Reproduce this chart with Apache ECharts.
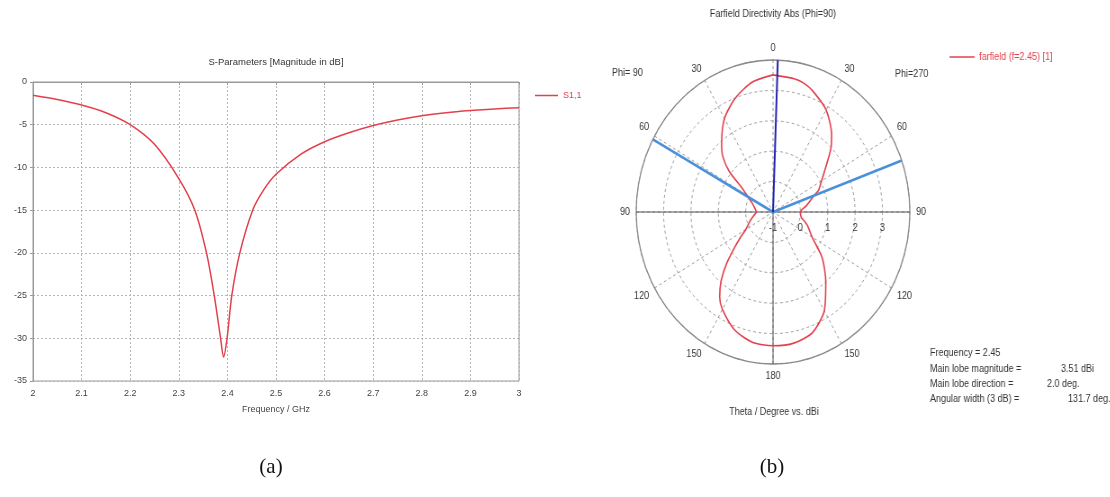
<!DOCTYPE html>
<html>
<head>
<meta charset="utf-8">
<script src="https://cdn.jsdelivr.net/npm/echarts@6/dist/echarts.min.js"></script>
<style>
  html, body { margin: 0; padding: 0; background: #fff; overflow: hidden; }
  #left { position: absolute; left: 0; top: 0; width: 1110px; height: 497px; }
  #right { position: absolute; left: 560px; top: 0; width: 620px; height: 497px;
           transform: scaleX(0.9); transform-origin: 213px 0; }
</style>
</head>
<body>
<div id="left"></div>
<div id="right"></div>
<script>
// ---------- (a) S-parameters ----------
const freqGHz = [2.0, 2.05, 2.1, 2.15, 2.2, 2.25, 2.3, 2.333, 2.357, 2.373, 2.386, 2.392, 2.3993, 2.409, 2.4256, 2.452, 2.475, 2.5, 2.55, 2.6, 2.65, 2.7, 2.75, 2.8, 2.85, 2.9, 2.95, 3.0];
const s11dB   = [-1.55, -2.05, -2.7, -3.6, -5.0, -7.3, -11.3, -15, -20, -25, -30, -32.2, -30, -25, -20, -15, -12.6, -10.8, -8.5, -7.0, -5.95, -5.1, -4.45, -3.95, -3.6, -3.35, -3.15, -3.02];
const xTickLabels = ['2', '2.1', '2.2', '2.3', '2.4', '2.5', '2.6', '2.7', '2.8', '2.9', '3'];
const yTickLabels = ['-35', '-30', '-25', '-20', '-15', '-10', '-5', '0'];
const s11Name = 'S1,1';

// ---------- (b) Farfield polar ----------
const rightTheta = [0, 10, 15, 20, 30, 40, 45, 50, 60, 67, 70, 80, 90, 100, 105, 110, 120, 130, 140, 150, 160, 170, 180];
const rightDb    = [3.51, 3.45, 3.38, 3.24, 2.88, 2.33, 2.0, 1.6, 1.05, 0.8, 0.6, 0.25, 0.0, 0.05, 0.2, 0.35, 0.65, 1.35, 2.0, 2.75, 3.22, 3.38, 3.4];
const leftTheta  = [180, 170, 160, 150, 145, 140, 135, 130, 125, 120, 110, 100, 90, 80, 70, 65, 60, 55, 50, 45, 40, 30, 20, 10, 0];
const leftDb     = [3.4, 3.35, 3.12, 2.7, 2.4, 1.95, 1.4, 0.85, 0.45, 0.15, -0.1, -0.28, -0.39, -0.33, -0.2, -0.08, 0.1, 0.4, 1.1, 1.6, 1.92, 2.55, 3.0, 3.34, 3.51];
const mainLobeDir = 2.0;
const beamEdges = [-61.5, 70.2];
const farfieldName = 'farfield (f=2.45) [1]';
const infoLabels = ['Frequency = 2.45', 'Main lobe magnitude =', 'Main lobe direction =', 'Angular width (3 dB) ='];
const infoValues = ['', '3.51 dBi', '2.0 deg.', '131.7 deg.'];

const FONT = 'Liberation Sans';
const RED = '#e3404c';

// ---- left chart ----
const s11Data = freqGHz.map((f, i) => [f, s11dB[i]]);
const leftChart = echarts.init(document.getElementById('left'), null, {renderer: 'canvas'});
leftChart.setOption({
  animation: false,
  textStyle: {fontFamily: FONT},
  grid: {left: 33, right: 591, top: 82, bottom: 116, show: true, borderColor: '#9a9a9a', borderWidth: 1},
  legend: {
    data: [s11Name], left: 530, top: 86, icon: 'rect', itemWidth: 23, itemHeight: 1.5, itemGap: 4,
    textStyle: {color: RED, fontSize: 9, fontFamily: FONT}
  },
  xAxis: {
    type: 'value', min: 2, max: 3, interval: 0.1,
    axisLine: {lineStyle: {color: '#9a9a9a'}},
    axisTick: {show: true, length: 3, lineStyle: {color: '#9a9a9a'}},
    axisLabel: {color: '#444', fontSize: 9, margin: 8, formatter: v => xTickLabels[Math.round((v - 2) * 10)]},
    splitLine: {show: true, lineStyle: {color: '#b5b5b5', type: [2, 2]}},
    name: 'Frequency / GHz', nameLocation: 'middle', nameGap: 24,
    nameTextStyle: {color: '#444', fontSize: 9, fontFamily: FONT}
  },
  yAxis: {
    type: 'value', min: -35, max: 0, interval: 5,
    axisLine: {show: true, lineStyle: {color: '#9a9a9a'}},
    axisTick: {show: true, length: 3, lineStyle: {color: '#9a9a9a'}},
    axisLabel: {color: '#444', fontSize: 9, margin: 6, formatter: v => yTickLabels[Math.round((v + 35) / 5)]},
    splitLine: {show: true, lineStyle: {color: '#b5b5b5', type: [2, 2]}}
  },
  graphic: [
    {type: 'text', x: 276, y: 62, style: {text: 'S-Parameters [Magnitude in dB]', fontSize: 9.5, fontFamily: FONT, fill: '#333', textAlign: 'center', textVerticalAlign: 'middle'}},
    {type: 'text', x: 271, y: 467, style: {text: '(a)', fontSize: 21, fontFamily: 'Liberation Serif', fill: '#111', textAlign: 'center', textVerticalAlign: 'middle'}},
    {type: 'text', x: 772, y: 467, style: {text: '(b)', fontSize: 21, fontFamily: 'Liberation Serif', fill: '#111', textAlign: 'center', textVerticalAlign: 'middle'}}
  ],
  series: [{
    name: s11Name, type: 'line', data: s11Data, showSymbol: false, symbol: 'none',
    smooth: 0.25,
    lineStyle: {color: RED, width: 1.5}, itemStyle: {color: RED}
  }]
});

// ---- right chart (polar) ----
const patternData = [];
rightTheta.forEach((t, i) => patternData.push([rightDb[i], t]));
leftTheta.forEach((t, i) => patternData.push([leftDb[i], 360 - t]));

const rMin = -1, rMax = 4;
const norm = a => (a + 360) % 360;
const rightChart = echarts.init(document.getElementById('right'), null, {renderer: 'canvas'});
const CX = 213, CY = 212, R = 152;
const sx = X => CX + (X - 773) / 0.9;  // page x -> pre-scale x
rightChart.setOption({
  animation: false,
  textStyle: {fontFamily: FONT},
  polar: [
    {center: [CX, CY], radius: [0, R]},
    {center: [CX, CY], radius: [0, R]}
  ],
  angleAxis: [
    {
      polarIndex: 0, type: 'value', min: 0, max: 360, interval: 30, startAngle: 90, clockwise: true,
      axisLine: {show: true, lineStyle: {color: '#8a8a8a', width: 1.3}},
      axisTick: {show: false},
      axisLabel: {color: '#333', fontSize: 10, margin: 7, formatter: v => (v >= 360 ? '' : String(v > 180 ? 360 - v : v))},
      splitLine: {show: true, lineStyle: {color: '#9a9a9a', type: [3, 3]}}
    },
    {polarIndex: 1, type: 'value', min: 0, max: 360, startAngle: 0, show: false}
  ],
  radiusAxis: [
    {
      polarIndex: 0, type: 'value', min: rMin, max: rMax, interval: 1,
      axisLine: {show: false}, axisTick: {show: false}, axisLabel: {show: false},
      splitLine: {show: true, lineStyle: {color: '#9a9a9a', type: [3, 3]}}
    },
    {
      polarIndex: 1, type: 'value', min: rMin, max: rMax, interval: 1,
      axisLine: {show: false}, axisTick: {show: false},
      axisLabel: {show: true, color: '#333', fontSize: 10, margin: -21, formatter: v => (v >= rMax ? '' : String(v))},
      splitLine: {show: false}
    }
  ],
  legend: {
    data: [farfieldName], left: sx(945), top: 47, icon: 'rect', itemWidth: 28, itemHeight: 1.5, itemGap: 5,
    textStyle: {color: RED, fontSize: 10, fontFamily: FONT}
  },
  graphic: [
    {type: 'text', x: CX, y: 14, style: {text: 'Farfield Directivity Abs (Phi=90)', fontSize: 10, fontFamily: FONT, fill: '#333', textAlign: 'center', textVerticalAlign: 'middle'}},
    {type: 'text', x: sx(612), y: 73, style: {text: 'Phi= 90', fontSize: 10, fontFamily: FONT, fill: '#333', textAlign: 'left', textVerticalAlign: 'middle'}},
    {type: 'text', x: sx(895), y: 74, style: {text: 'Phi=270', fontSize: 10, fontFamily: FONT, fill: '#333', textAlign: 'left', textVerticalAlign: 'middle'}},
    {type: 'text', x: sx(774), y: 412, style: {text: 'Theta / Degree vs. dBi', fontSize: 10, fontFamily: FONT, fill: '#333', textAlign: 'center', textVerticalAlign: 'middle'}},
    {type: 'text', x: sx(930), y: 353, style: {text: infoLabels[0], fontSize: 10, fontFamily: FONT, fill: '#333', textVerticalAlign: 'middle'}},
    {type: 'text', x: sx(930), y: 369, style: {text: infoLabels[1], fontSize: 10, fontFamily: FONT, fill: '#333', textVerticalAlign: 'middle'}},
    {type: 'text', x: sx(930), y: 384, style: {text: infoLabels[2], fontSize: 10, fontFamily: FONT, fill: '#333', textVerticalAlign: 'middle'}},
    {type: 'text', x: sx(930), y: 399, style: {text: infoLabels[3], fontSize: 10, fontFamily: FONT, fill: '#333', textVerticalAlign: 'middle'}},
    {type: 'text', x: sx(1061), y: 369, style: {text: infoValues[1], fontSize: 10, fontFamily: FONT, fill: '#333', textVerticalAlign: 'middle'}},
    {type: 'text', x: sx(1047), y: 384, style: {text: infoValues[2], fontSize: 10, fontFamily: FONT, fill: '#333', textVerticalAlign: 'middle'}},
    {type: 'text', x: sx(1068), y: 399, style: {text: infoValues[3], fontSize: 10, fontFamily: FONT, fill: '#333', textVerticalAlign: 'middle'}}
  ],
  series: [
    {
      type: 'line', coordinateSystem: 'polar', polarIndex: 0, silent: true, symbol: 'none',
      data: [[rMax, 270], [rMin, 0], [rMax, 90]],
      lineStyle: {color: '#555', width: 1}
    },
    {
      type: 'line', coordinateSystem: 'polar', polarIndex: 0, silent: true, symbol: 'none',
      data: [[rMin, 180], [rMax, 180]],
      lineStyle: {color: '#555', width: 1}
    },
    {
      name: farfieldName, type: 'line', coordinateSystem: 'polar', polarIndex: 0,
      data: patternData, symbol: 'none', showSymbol: false, smooth: 0.25,
      lineStyle: {color: RED, width: 1.6}, itemStyle: {color: RED}
    },
    {
      type: 'line', coordinateSystem: 'polar', polarIndex: 0, silent: true, symbol: 'none',
      data: [[rMin, norm(beamEdges[0])], [rMax, norm(beamEdges[0])]],
      lineStyle: {color: '#4a90d9', width: 2.6}
    },
    {
      type: 'line', coordinateSystem: 'polar', polarIndex: 0, silent: true, symbol: 'none',
      data: [[rMin, norm(beamEdges[1])], [rMax, norm(beamEdges[1])]],
      lineStyle: {color: '#4a90d9', width: 2.6}
    },
    {
      type: 'line', coordinateSystem: 'polar', polarIndex: 0, silent: true, symbol: 'none',
      data: [[rMin, mainLobeDir], [rMax, mainLobeDir]],
      lineStyle: {color: '#2323b0', width: 2}
    }
  ]
});
</script>
</body>
</html>
